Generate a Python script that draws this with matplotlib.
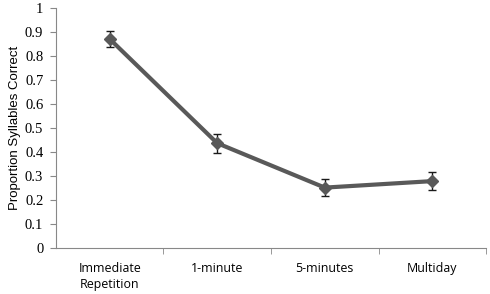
import matplotlib
matplotlib.use("Agg")
import matplotlib.pyplot as plt
import numpy as np

categories = ["Immediate\nRepetition", "1-minute", "5-minutes", "Multiday"]
values = [0.871, 0.437, 0.252, 0.279]
errors = [0.035, 0.040, 0.035, 0.037]
yticks = [0, 0.1, 0.2, 0.3, 0.4, 0.5, 0.6, 0.7, 0.8, 0.9, 1]
ytick_labels = ["0", "0.1", "0.2", "0.3", "0.4", "0.5", "0.6", "0.7", "0.8", "0.9", "1"]

fig = plt.figure(figsize=(4.9, 2.94), dpi=100)
ax = fig.add_axes([0.114, 0.156, 0.878, 0.817])
x = np.arange(len(categories))
ax.errorbar(x, values, yerr=errors, color="#595959", lw=3, marker="D", ms=6,
            ecolor="#1a1a1a", elinewidth=1, capsize=3, capthick=1, zorder=3)
ax.set_xlim(-0.5, 3.5)
ax.set_ylim(0, 1)
ax.set_yticks(yticks)
ax.set_yticklabels(ytick_labels, fontfamily="Liberation Serif", fontsize=10.5)
ax.set_xticks(x)
ax.set_xticklabels(categories, fontfamily="Open Sans", fontsize=8.9, linespacing=1.3)
ax.set_xticks([0.5, 1.5, 2.5, 3.5], minor=True)
ax.tick_params(axis="x", which="major", length=0, pad=10)
ax.tick_params(axis="x", which="minor", length=4, color="#888888", direction="out")
ax.tick_params(axis="y", length=4, color="#888888", direction="out", pad=5)
for s in ["top", "right"]:
    ax.spines[s].set_visible(False)
for s in ["left", "bottom"]:
    ax.spines[s].set_color("#888888")
ax.set_ylabel("Proportion Syllables Correct", fontfamily="Liberation Sans", fontsize=9.5, labelpad=3)
fig.savefig("out.png", dpi=100)
